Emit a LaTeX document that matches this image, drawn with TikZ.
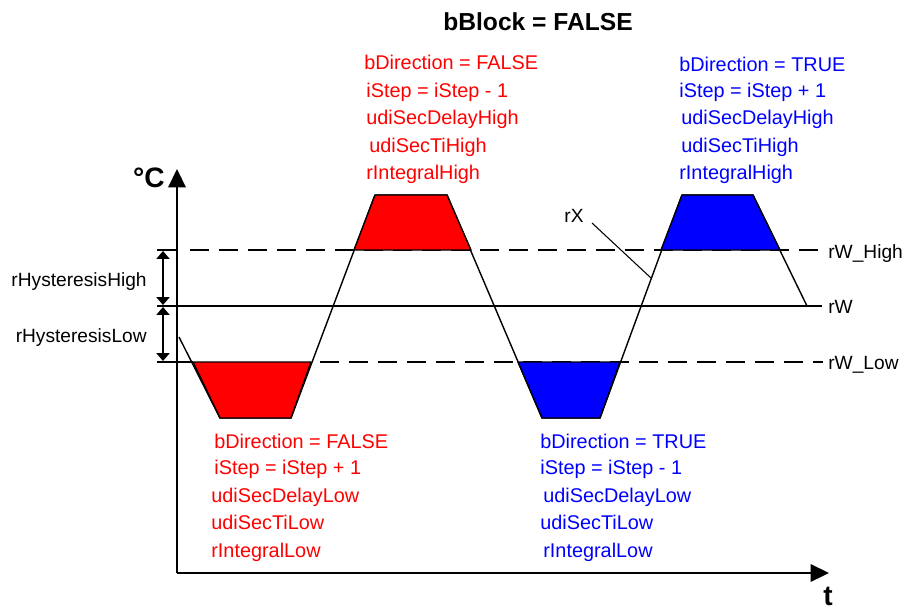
\documentclass[tikz,border=0pt]{standalone}
\usepackage{fontspec}
\setmainfont{Liberation Sans}
\usetikzlibrary{arrows.meta}
\begin{document}
\begin{tikzpicture}[x=0.02cm,y=-0.02cm,
  lbl/.style={inner sep=0pt, anchor=base west, font=\fontsize{10.9}{13}\selectfont},
  collbl/.style={inner sep=0pt, anchor=base west, font=\fontsize{11.3}{13}\selectfont},
  redtxt/.style={collbl, text=red},
  bluetxt/.style={collbl, text=blue},
  curve/.style={line width=0.8pt, line join=round},
  trap/.style={draw=black, line width=0.8pt, line join=round},
  dashln/.style={line width=0.8pt, dash pattern=on 10.8pt off 5.7pt},
  solidln/.style={line width=0.8pt},
  dim/.style={line width=0.7pt, {Triangle[width=7.5pt,length=4.5pt]}-{Triangle[width=7.5pt,length=4.5pt]}},
  axis/.style={line width=1pt, -{Triangle[width=10pt,length=10.5pt]}},
  big/.style={inner sep=0pt, font=\fontsize{16}{18}\bfseries\selectfont}
]
\useasboundingbox (0,0) rectangle (904,610);

% title
\node[inner sep=0pt, font=\fontsize{14}{16}\bfseries\selectfont] (title) at (538,22) {bBlock = FALSE};

% reference lines
\coordinate (hiL) at (157,250); \coordinate (hiA) at (177,250);
\coordinate (hiD) at (190,250); \coordinate (hiR) at (823,250);
\coordinate (wL) at (157,306);  \coordinate (wR) at (822,306);
\coordinate (loL) at (157,362); \coordinate (loA) at (193,362);
\coordinate (loD) at (320,362); \coordinate (loR) at (823,362);
\draw[solidln] (hiL) -- (hiA);
\draw[dashln] (hiD) -- (hiR);
\draw[solidln] (wL) -- (wR);
\draw[solidln] (loL) -- (loA);
\draw[dashln] (loD) -- (loR);

% dimension arrows
\coordinate (d1) at (163,251); \coordinate (d2) at (163,305);
\coordinate (d3) at (163,307); \coordinate (d4) at (163,361);
\draw[dim] (d1) -- (d2);
\draw[dim] (d3) -- (d4);
\node[lbl, anchor=base east] (hyH) at (147,286) {rHysteresisHigh};
\node[lbl, anchor=base east] (hyL) at (147,342) {rHysteresisLow};

% curve rX
\coordinate (c0) at (179,337);
\coordinate (c1) at (220,418); \coordinate (c2) at (291,418);
\coordinate (c3) at (375,195); \coordinate (c4) at (447,195);
\coordinate (c5) at (542,418); \coordinate (c6) at (600,418);
\coordinate (c7) at (682,195); \coordinate (c8) at (753,195);
\coordinate (c9) at (807,306);
\draw[curve] (c0) -- (c1) -- (c2) -- (c3) -- (c4) -- (c5) -- (c6) -- (c7) -- (c8) -- (c9);

% trapezoids
\draw[trap, fill=red] (193,362) -- (c1) -- (c2) -- (311,362) -- cycle;
\draw[trap, fill=red] (354,250) -- (c3) -- (c4) -- (471,250) -- cycle;
\draw[trap, fill=blue] (518,362) -- (c5) -- (c6) -- (620,362) -- cycle;
\draw[trap, fill=blue] (661,250) -- (c7) -- (c8) -- (780,250) -- cycle;

% rX label
\node[lbl, anchor=center] (rX) at (574,216) {rX};
\coordinate (rXend) at (651,278);
\draw[line width=0.6pt] (592,223) -- (rXend);

% right labels
\node[lbl] (lHigh) at (828,258) {rW\_High};
\node[lbl] (lW) at (828,313) {rW};
\node[lbl] (lLow) at (828,369) {rW\_Low};

% axes
\coordinate (origin) at (177,573);
\coordinate (ytip) at (177,169);
\coordinate (xtip) at (829,573);
\draw[axis] (origin) -- (ytip);
\draw[axis] (origin) -- (xtip);
\node[big] (degC) at (149,178) {°C};
\node[big] (tlab) at (828,596) {t};

% top red
\node[redtxt] (tr1) at (364,69) {bDirection = FALSE};
\node[redtxt] (tr2) at (366,97) {iStep = iStep - 1};
\node[redtxt] (tr3) at (366,124) {udiSecDelayHigh};
\node[redtxt] (tr4) at (369,152) {udiSecTiHigh};
\node[redtxt] (tr5) at (366,179) {rIntegralHigh};
% top blue
\node[bluetxt] (tb1) at (679,71) {bDirection = TRUE};
\node[bluetxt] (tb2) at (679,97) {iStep = iStep + 1};
\node[bluetxt] (tb3) at (681,124) {udiSecDelayHigh};
\node[bluetxt] (tb4) at (681,152) {udiSecTiHigh};
\node[bluetxt] (tb5) at (679,179) {rIntegralHigh};
% bottom red
\node[redtxt] (br1) at (214,448) {bDirection = FALSE};
\node[redtxt] (br2) at (214,474) {iStep = iStep + 1};
\node[redtxt] (br3) at (211,502) {udiSecDelayLow};
\node[redtxt] (br4) at (211,529) {udiSecTiLow};
\node[redtxt] (br5) at (211,557) {rIntegralLow};
% bottom blue
\node[bluetxt] (bb1) at (540,448) {bDirection = TRUE};
\node[bluetxt] (bb2) at (540,474) {iStep = iStep - 1};
\node[bluetxt] (bb3) at (543,502) {udiSecDelayLow};
\node[bluetxt] (bb4) at (540,529) {udiSecTiLow};
\node[bluetxt] (bb5) at (543,557) {rIntegralLow};
\end{tikzpicture}
\end{document}
